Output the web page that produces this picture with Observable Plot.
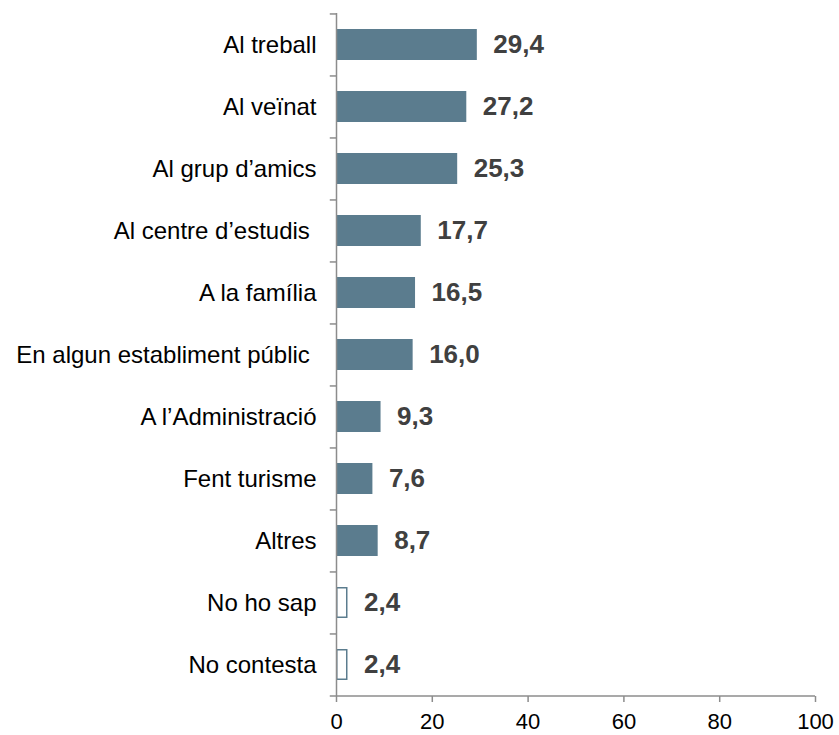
<!DOCTYPE html>
<html>
<head>
<meta charset="utf-8">
<script src="https://cdn.jsdelivr.net/npm/d3@7"></script>
<script src="https://cdn.jsdelivr.net/npm/@observablehq/plot@0.6"></script>
<style>
  body { margin: 0; background: #fff; }
  svg { font-family: "Liberation Sans", Arial, sans-serif; }
</style>
</head>
<body>
<div id="chart"></div>
<script>
const categories = [
  "Al treball",
  "Al veïnat",
  "Al grup d’amics",
  "Al centre d’estudis ",
  "A la família",
  "En algun establiment públic ",
  "A l’Administració",
  "Fent turisme",
  "Altres",
  "No ho sap",
  "No contesta"
];
const values = [29.4, 27.2, 25.3, 17.7, 16.5, 16.0, 9.3, 7.6, 8.7, 2.4, 2.4];
const outlined = [false, false, false, false, false, false, false, false, false, true, true];
const xTicks = [0, 20, 40, 60, 80, 100];

const data = categories.map((c, i) => ({cat: c, value: values[i], outline: outlined[i]}));

const W = 839, H = 735, mT = 13, mB = 39, mL = 336, mR = 24;
const step = (H - mT - mB) / categories.length;
const barColor = "#5b7c8e";
const axisColor = "#8c8c8c";
const fmt = v => v.toFixed(1).replace(".", ",");

const chart = Plot.plot({
  width: W,
  height: H,
  marginTop: mT,
  marginBottom: mB,
  marginLeft: mL,
  marginRight: mR,
  style: {fontFamily: "'Liberation Sans', Arial, sans-serif", background: "#fff", overflow: "visible"},
  x: {domain: [0, 100], ticks: xTicks},
  y: {domain: categories, paddingInner: 0.5, paddingOuter: 0.25, label: null},
  marks: [
    Plot.barX(data.filter(d => !d.outline), {y: "cat", x: "value", fill: barColor}),
    Plot.barX(data.filter(d => d.outline), {y: "cat", x: "value", fill: "#fff", stroke: barColor, strokeWidth: 1.5, inset: 0.75}),
    Plot.text(data, {y: "cat", x: "value", text: d => fmt(d.value), dx: 16, textAnchor: "start",
      fontSize: 26, fontWeight: "bold", fill: "#404040"}),
    // y axis line
    Plot.ruleX([0], {stroke: axisColor, strokeWidth: 1.5}),
    // category boundary ticks
    Plot.ruleY(categories, {y: d => d, x1: -1.3, x2: 0, dy: -step / 2, stroke: axisColor, strokeWidth: 1.5}),
    Plot.ruleY([categories[categories.length - 1]], {y: d => d, x1: -1.3, x2: 100, dy: step / 2, stroke: axisColor, strokeWidth: 1.5}),
    Plot.axisY({tickSize: 0, tickPadding: 20, fontSize: 24, fill: "#000", label: null}),
    Plot.axisX({ticks: xTicks, tickSize: 6, tickPadding: 11, fontSize: 22, fill: "#000", stroke: axisColor, strokeWidth: 1.5, label: null, tickFormat: d => String(d)})
  ]
});
document.getElementById("chart").appendChild(chart);
</script>
</body>
</html>
